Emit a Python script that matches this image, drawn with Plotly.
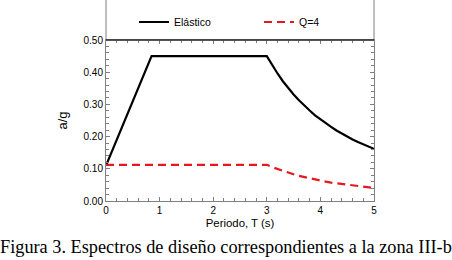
import plotly.graph_objects as go

# Data
T_elastic = [0.0, 0.85, 3.0, 3.1, 3.2, 3.3, 3.4, 3.5, 3.6, 3.7, 3.8, 3.9, 4.0,
             4.1, 4.2, 4.3, 4.4, 4.5, 4.6, 4.7, 4.8, 4.9, 5.0]
a_elastic = [0.11, 0.45, 0.45, 0.421, 0.396, 0.372, 0.350, 0.331, 0.313, 0.296, 0.281, 0.266, 0.253,
             0.241, 0.230, 0.219, 0.209, 0.200, 0.191, 0.183, 0.176, 0.169, 0.162]
T_q4 = [0.0, 3.0, 3.1, 3.2, 3.3, 3.4, 3.5, 3.6, 3.7, 3.8, 3.9, 4.0,
        4.1, 4.2, 4.3, 4.4, 4.5, 4.6, 4.7, 4.8, 4.9, 5.0]
a_q4 = [0.1125, 0.1125, 0.105, 0.099, 0.093, 0.088, 0.083, 0.078, 0.074, 0.070, 0.067, 0.063,
        0.060, 0.057, 0.055, 0.052, 0.050, 0.048, 0.046, 0.044, 0.042, 0.0405]
x_ticks = [0, 1, 2, 3, 4, 5]
y_ticks = [0.0, 0.1, 0.2, 0.3, 0.4, 0.5]

fig = go.Figure()
fig.add_trace(go.Scatter(x=T_elastic, y=a_elastic, mode="lines", name="Elástico",
                         line=dict(color="black", width=2.2), legend="legend"))
fig.add_trace(go.Scatter(x=T_q4, y=a_q4, mode="lines", name="Q=4",
                         line=dict(color="#e8171f", width=2.2, dash="8px,5px"), legend="legend2"))

axis_common = dict(showgrid=False, zeroline=False, showline=True, linecolor="#7f7f7f",
                   linewidth=1, mirror="allticks", ticks="inside", ticklen=4,
                   tickcolor="#7f7f7f", tickfont=dict(family="Liberation Sans", size=10, color="black"))

fig.update_xaxes(range=[0, 5], tickvals=x_ticks, ticktext=[str(v) for v in x_ticks],
                 minor=dict(dtick=0.2, ticks="inside", ticklen=3, tickcolor="#7f7f7f"),
                 title=dict(text="Periodo, T (s)", font=dict(family="Liberation Sans", size=11.4, color="black"), standoff=4),
                 **axis_common)
fig.update_yaxes(range=[0, 0.5], tickvals=y_ticks, ticktext=[f"{v:.2f}" for v in y_ticks],
                 minor=dict(dtick=0.02, ticks="inside", ticklen=3, tickcolor="#7f7f7f"),
                 title=dict(text="a/g", font=dict(family="Liberation Sans", size=13, color="black"), standoff=12),
                 **axis_common)

# legend box above plot
fig.add_shape(type="rect", xref="paper", yref="paper", x0=0, x1=1, y0=1, y1=1.3,
              line=dict(color="#7f7f7f", width=1), fillcolor="rgba(0,0,0,0)")
fig.add_shape(type="line", xref="paper", yref="paper", x0=0, x1=1, y0=1, y1=1,
              line=dict(color="#333333", width=1.3))

fig.add_annotation(text="Figura 3. Espectros de diseño correspondientes a la zona III-b",
                   xref="paper", yref="paper", x=(226 - 106) / 268, y=-(247 - 201) / 161,
                   showarrow=False, xanchor="center", yanchor="middle",
                   font=dict(family="Liberation Serif", size=18.3, color="black"))

leg_common = dict(orientation="h", yanchor="middle", xanchor="left", bgcolor="rgba(0,0,0,0)",
                  font=dict(family="Liberation Sans", size=10.5, color="black"), itemwidth=30)

fig.update_layout(
    width=452, height=260,
    margin=dict(l=106, r=78, t=40, b=59, autoexpand=False),
    paper_bgcolor="white", plot_bgcolor="white",
    showlegend=True,
    legend=dict(x=(134 - 106) / 268, y=1 + (40 - 22) / 161, **leg_common),
    legend2=dict(x=(259 - 106) / 268, y=1 + (40 - 22) / 161, **leg_common),
)

fig.write_html("out.html", config={"displayModeBar": False},
               post_script="document.body.style.margin='0';document.body.style.padding='0';")
